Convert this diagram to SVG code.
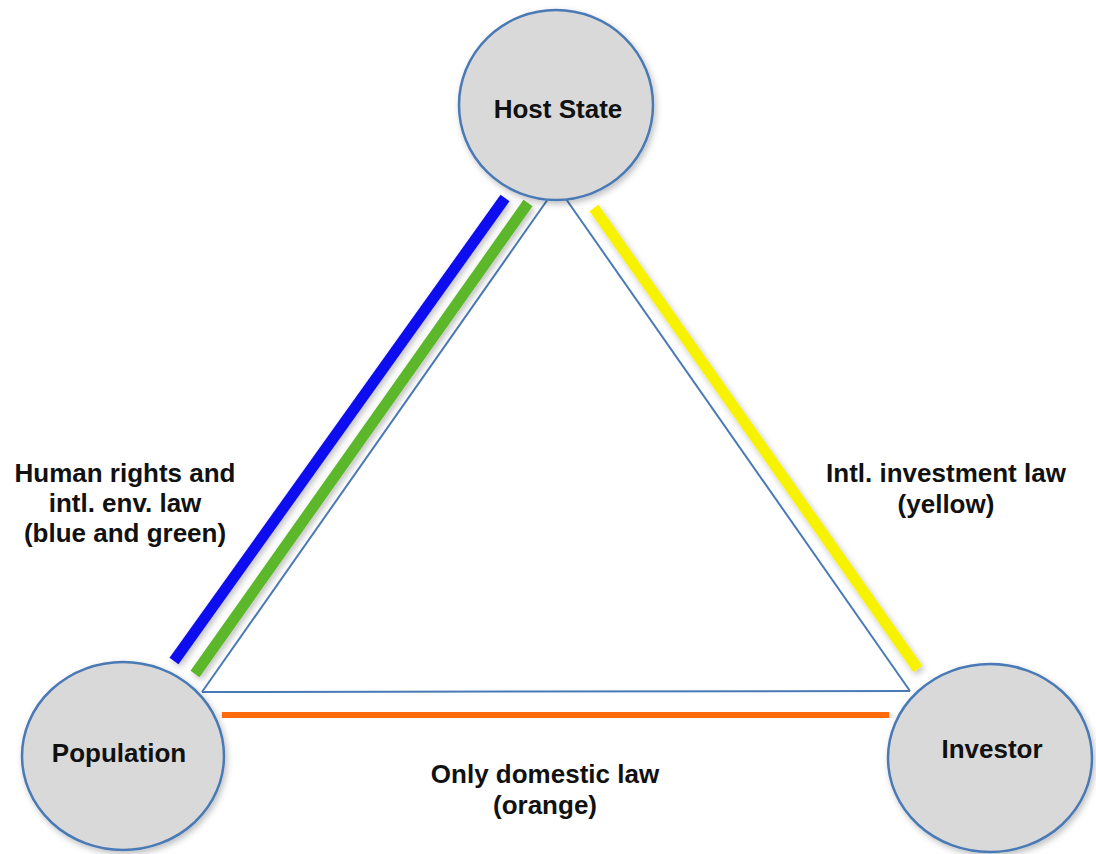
<svg xmlns="http://www.w3.org/2000/svg" width="1096" height="854" viewBox="0 0 1096 854">
<defs>
<filter id="sh" x="-20%" y="-20%" width="140%" height="140%">
<feDropShadow dx="2" dy="3" stdDeviation="3" flood-color="#000" flood-opacity="0.25"/>
</filter>
<style>
.node ellipse{fill:#d9d9d9;stroke:#4a7ab5;stroke-width:2.5;filter:url(#sh);}
.thin{stroke:#4a7ab5;stroke-width:2;fill:none;}
.thick{stroke-linecap:butt;filter:url(#sh);}
text{font-family:"Liberation Sans",Arial,sans-serif;font-weight:bold;font-size:26px;fill:#111;text-anchor:middle;}
</style>
</defs>
<rect width="1096" height="854" fill="#ffffff"/>
<g id="connectors">
<line class="thin" x1="548" y1="199" x2="202" y2="692"/>
<line class="thin" x1="566" y1="199" x2="910" y2="691"/>
<line class="thin" x1="202" y1="692" x2="910" y2="691"/>
<line class="thick" x1="505" y1="198" x2="174" y2="661" stroke="#0a0af0" stroke-width="11"/>
<line class="thick" x1="528" y1="203" x2="195" y2="674" stroke="#5cb82c" stroke-width="11"/>
<line class="thick" x1="594" y1="208" x2="918" y2="669" stroke="#f7f200" stroke-width="11"/>
<line class="thick" x1="222" y1="713" x2="889" y2="717" stroke="#ff6a0a" stroke-width="12"/>
</g>
<g id="host-state" class="node">
<ellipse cx="556" cy="105" rx="97" ry="95"/>
<text x="558" y="118">Host State</text>
</g>
<g id="population" class="node">
<ellipse cx="123" cy="756" rx="101" ry="94"/>
<text x="119" y="762">Population</text>
</g>
<g id="investor" class="node">
<ellipse cx="990" cy="758" rx="102" ry="94"/>
<text x="992" y="758">Investor</text>
</g>
<g id="labels">
<text x="125" y="482">Human rights and</text>
<text x="125" y="512">intl. env. law</text>
<text x="125" y="542">(blue and green)</text>
<text x="946" y="482">Intl. investment law</text>
<text x="946" y="513">(yellow)</text>
<text x="545" y="783">Only domestic law</text>
<text x="545" y="814">(orange)</text>
</g>
</svg>
